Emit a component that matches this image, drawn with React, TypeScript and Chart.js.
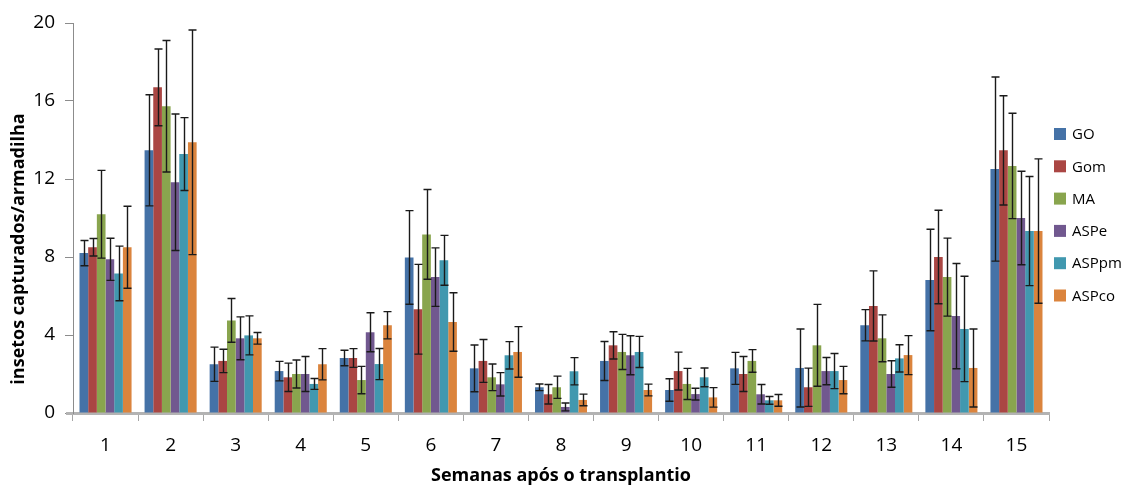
import React, { useEffect, useRef } from "react";
import { Chart, registerables } from "chart.js";

Chart.register(...registerables);

const weeks = ["1", "2", "3", "4", "5", "6", "7", "8", "9", "10", "11", "12", "13", "14", "15"];
const seriesNames = ["GO", "Gom", "MA", "ASPe", "ASPpm", "ASPco"];
const colors = ["#4572A7", "#AA4643", "#89A54E", "#71588F", "#4198AF", "#DB843D"];

const GO = [8.2, 13.47, 2.5, 2.15, 2.82, 7.98, 2.29, 1.32, 2.67, 1.18, 2.29, 2.31, 4.5, 6.82, 12.51];
const GO_err = [0.65, 2.85, 0.88, 0.5, 0.4, 2.4, 1.2, 0.17, 1.0, 0.58, 0.82, 2.0, 0.8, 2.6, 4.72];
const Gom = [8.5, 16.7, 2.67, 1.83, 2.82, 5.32, 2.67, 0.96, 3.47, 2.15, 2.0, 1.32, 5.49, 8.0, 13.47];
const Gom_err = [0.45, 1.97, 0.6, 0.73, 0.48, 2.3, 1.1, 0.5, 0.7, 0.97, 0.9, 0.98, 1.8, 2.4, 2.8];
const MA = [10.19, 15.73, 4.75, 2.0, 1.69, 9.16, 1.83, 1.32, 3.13, 1.49, 2.67, 3.47, 3.83, 6.97, 12.67];
const MA_err = [2.25, 3.37, 1.12, 0.72, 0.7, 2.3, 0.68, 0.57, 0.9, 0.8, 0.58, 2.1, 1.2, 2.0, 2.7];
const ASPe = [7.88, 11.83, 3.83, 2.0, 4.14, 6.97, 1.47, 0.31, 2.96, 0.97, 0.96, 2.15, 2.0, 4.97, 10.0];
const ASPe_err = [1.08, 3.5, 1.1, 0.9, 1.0, 1.5, 0.6, 0.2, 1.0, 0.3, 0.5, 0.7, 0.68, 2.7, 2.4];
const ASPpm = [7.16, 13.28, 3.98, 1.49, 2.51, 7.83, 2.96, 2.14, 3.13, 1.83, 0.65, 2.15, 2.8, 4.31, 9.33];
const ASPpm_err = [1.4, 1.87, 1.0, 0.28, 0.8, 1.28, 0.7, 0.7, 0.8, 0.48, 0.2, 0.9, 0.7, 2.7, 2.8];
const ASPco = [8.5, 13.88, 3.83, 2.5, 4.5, 4.67, 3.13, 0.67, 1.18, 0.8, 0.65, 1.69, 2.97, 2.31, 9.33];
const ASPco_err = [2.1, 5.76, 0.3, 0.8, 0.7, 1.5, 1.3, 0.3, 0.3, 0.5, 0.3, 0.7, 1.0, 2.0, 3.7];

const values = [GO, Gom, MA, ASPe, ASPpm, ASPco];
const errors = [GO_err, Gom_err, MA_err, ASPe_err, ASPpm_err, ASPco_err];

const yTicks = [0, 4, 8, 12, 16, 20];
const xTitle = "Semanas após o transplantio";
const yTitle = "insetos capturados/armadilha";

const FONT = "'Open Sans', sans-serif";

const errorBarPlugin = {
  id: "errorBars",
  afterDatasetsDraw(chart: any) {
    const ctx = chart.ctx;
    const yScale = chart.scales.y;
    ctx.save();
    ctx.strokeStyle = "#1a1a1a";
    ctx.lineWidth = 1.4;
    chart.data.datasets.forEach((ds: any, di: number) => {
      const meta = chart.getDatasetMeta(di);
      const errs = errors[di];
      meta.data.forEach((bar: any, i: number) => {
        const v = ds.data[i];
        const e = errs[i];
        const x = Math.round(bar.x) + 0.5;
        const yTop = yScale.getPixelForValue(v + e);
        const yBot = yScale.getPixelForValue(Math.max(0, v - e));
        const cap = 4;
        ctx.beginPath();
        ctx.moveTo(x, yTop);
        ctx.lineTo(x, yBot);
        ctx.moveTo(x - cap, yTop);
        ctx.lineTo(x + cap, yTop);
        ctx.moveTo(x - cap, yBot);
        ctx.lineTo(x + cap, yBot);
        ctx.stroke();
      });
    });
    ctx.restore();
  },
};

const customPlugin = {
  id: "customText",
  afterDraw(chart: any) {
    const ctx = chart.ctx;
    const area = chart.chartArea;
    ctx.save();
    // x axis line extends slightly left of the y axis
    ctx.strokeStyle = "#b3b3b3";
    ctx.lineWidth = 3;
    ctx.beginPath();
    ctx.moveTo(area.left - 7, area.bottom + 0.5);
    ctx.lineTo(area.left, area.bottom + 0.5);
    ctx.stroke();
    // axis titles
    ctx.fillStyle = "#000";
    ctx.font = `bold 18px ${FONT}`;
    ctx.textAlign = "center";
    ctx.textBaseline = "middle";
    ctx.fillText(xTitle, (area.left + area.right) / 2, 476);
    ctx.save();
    ctx.translate(19, 249);
    ctx.rotate(-Math.PI / 2);
    ctx.fillText(yTitle, 0, 0);
    ctx.restore();
    // legend
    ctx.font = `15px ${FONT}`;
    ctx.textAlign = "left";
    chart.data.datasets.forEach((ds: any, i: number) => {
      const cy = 134 + i * 32.3;
      ctx.fillStyle = ds.backgroundColor;
      ctx.fillRect(1054, cy - 6, 12, 12);
      ctx.fillStyle = "#000";
      ctx.fillText(ds.label, 1072, cy + 1);
    });
    ctx.restore();
  },
};

export default function App() {
  const ref = useRef<HTMLCanvasElement | null>(null);
  useEffect(() => {
    document.body.style.margin = "0";
    const canvas = ref.current;
    if (!canvas) return;
    const chart = new Chart(canvas, {
      type: "bar",
      data: {
        labels: weeks,
        datasets: seriesNames.map((name, i) => ({
          label: name,
          data: values[i],
          backgroundColor: colors[i],
          borderWidth: 0,
          categoryPercentage: 0.8,
          barPercentage: 1.0,
        })),
      },
      options: {
        animation: false,
        responsive: false,
        maintainAspectRatio: false,
        layout: { padding: { top: 23, right: 77, left: 0, bottom: 0 } },
        plugins: {
          legend: { display: false },
          tooltip: { enabled: false },
        },
        scales: {
          x: {
            grid: {
              display: true,
              drawOnChartArea: false,
              drawTicks: true,
              tickLength: 8,
              color: "#a6a6a6",
              offset: true,
            },
            border: { display: true, color: "#b3b3b3", width: 3 },
            ticks: { font: { size: 19, family: FONT }, color: "#000", padding: 13 },
            afterFit: (s: any) => {
              s.height = 72;
            },
          },
          y: {
            min: 0,
            max: 20,
            afterBuildTicks: (s: any) => {
              s.ticks = yTicks.map((v) => ({ value: v }));
            },
            grid: {
              display: true,
              drawOnChartArea: false,
              drawTicks: true,
              tickLength: 8,
              color: "#8c8c8c",
            },
            border: { display: true, color: "#8c8c8c", width: 1 },
            ticks: { font: { size: 19, family: FONT }, color: "#000", padding: 10 },
            afterFit: (s: any) => {
              s.width = 73;
            },
          },
        },
      },
      plugins: [errorBarPlugin, customPlugin],
    });
    return () => chart.destroy();
  }, []);
  return (
    <div style={{ width: 1126, height: 485, background: "#fff" }}>
      <canvas ref={ref} width={1126} height={485} style={{ display: "block" }} />
    </div>
  );
}
